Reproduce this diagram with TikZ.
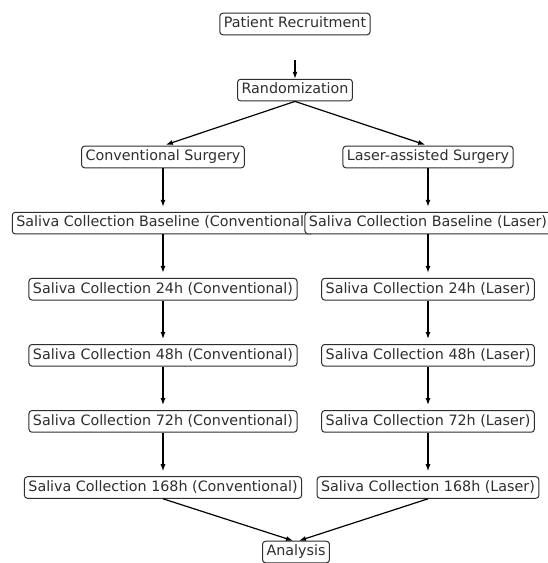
\documentclass[tikz,border=0pt]{standalone}
\usepackage{fontspec}
\setmainfont{DejaVu Sans}
\usetikzlibrary{arrows.meta,positioning}
\definecolor{ink}{HTML}{2E2E2E}

\begin{document}
\begin{tikzpicture}[x=1pt,y=-1pt,node distance=43.5pt,>={Latex[length=7pt,width=5pt]},
 every node/.style={font=\fontsize{14.3}{16}\selectfont,text=ink},
 stage/.style={draw=ink,rounded corners=3pt,fill=white,line width=1pt,
   inner xsep=4pt,inner ysep=4pt,text height=10.6pt,text depth=3pt},
 flow/.style={->,line width=1.2pt}]
    \useasboundingbox (0,0) rectangle (547,563);
    \node[stage] (recruit) at (295,24) {Patient Recruitment};
    \node[stage,below=of recruit] (random) {Randomization};
    % conventional arm
    \node[stage] (conv) at (163,157) {Conventional Surgery};
    \node[stage,below=of conv] (conv0) {Saliva Collection Baseline (Conventional)};
    \node[stage,below=of conv0] (conv24) {Saliva Collection 24h (Conventional)};
    \node[stage,below=of conv24] (conv48) {Saliva Collection 48h (Conventional)};
    \node[stage,below=of conv48] (conv72) {Saliva Collection 72h (Conventional)};
    \node[stage,below=of conv72] (conv168) {Saliva Collection 168h (Conventional)};
    % laser arm
    \node[stage] (laser) at (428,157) {Laser-assisted Surgery};
    \node[stage,below=of laser] (laser0) {Saliva Collection Baseline (Laser)};
    \node[stage,below=of laser0] (laser24) {Saliva Collection 24h (Laser)};
    \node[stage,below=of laser24] (laser48) {Saliva Collection 48h (Laser)};
    \node[stage,below=of laser48] (laser72) {Saliva Collection 72h (Laser)};
    \node[stage,below=of laser72] (laser168) {Saliva Collection 168h (Laser)};
    \node[stage] (analysis) at (296,552) {Analysis};
    % connectors
    \draw[flow,shorten <=25pt] (recruit) -- (random);
    \draw[flow,shorten >=3pt] (random.south) -- (conv.north);
    \draw[flow,shorten >=3pt] (random.south) -- (laser.north);
    \foreach \a/\b in {conv/conv0,conv0/conv24,conv24/conv48,conv48/conv72,conv72/conv168,
      laser/laser0,laser0/laser24,laser24/laser48,laser48/laser72,laser72/laser168}
      \draw[flow,shorten >=5pt] (\a.south) -- (\b.north);
    \draw[flow] (conv168.south) -- ([xshift=-3pt]analysis.north);
    \draw[flow] (laser168.south) -- ([xshift=3pt]analysis.north);
\end{tikzpicture}
\end{document}
